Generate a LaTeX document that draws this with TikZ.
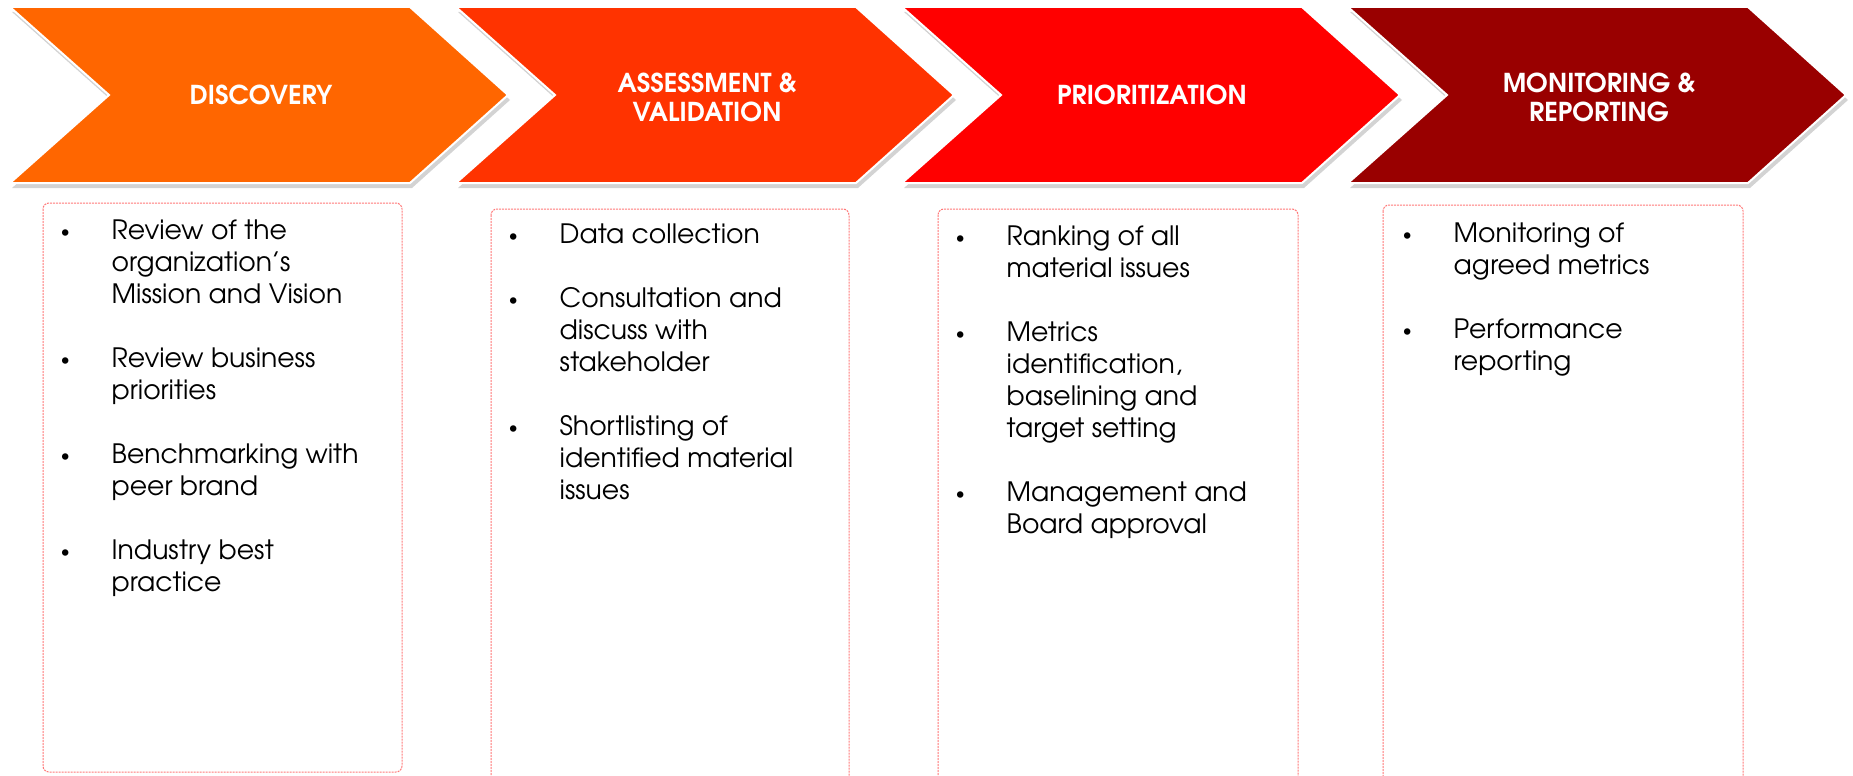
\documentclass[tikz,border=0pt]{standalone}
\usepackage{fontspec}
\setmainfont{TeX Gyre Adventor}
\usetikzlibrary{shadows}

\definecolor{discovery}{HTML}{FF6600}
\definecolor{assess}{HTML}{FF3300}
\definecolor{prior}{HTML}{FF0000}
\definecolor{monit}{HTML}{990000}
\definecolor{boxline}{HTML}{FF7878}

\tikzset{
	chevron/.style={draw=white, line width=2pt, line join=miter,
		drop shadow={shadow xshift=2pt, shadow yshift=-5pt, opacity=.35}},
	head/.style={text=white, align=center, inner sep=0pt,
		font=\fontsize{26}{29}\selectfont\bfseries},
	listbox/.style={draw=boxline, line width=1pt, dash pattern=on 2pt off 1pt,
		rounded corners=6pt},
	items/.style={anchor=base west, inner sep=0pt,
		font=\fontsize{26.67}{32}\selectfont}
}
\newcommand{\bul}{\makebox[46.5pt][l]{\makebox[0pt]{\fontsize{18}{18}\selectfont\raisebox{1.5pt}{\textbullet}}}}
\newcommand{\ind}{\hspace*{46.5pt}}

\begin{document}
\begin{tikzpicture}[x=1pt, y=-1pt]
	\useasboundingbox (0,0) rectangle (1853,776);
	\clip (0,0) rectangle (1853,776);

	% chevrons
	\draw[chevron, fill=discovery] (10,7) -- (410,7) -- (508,95) -- (410,183) -- (10,183) -- (109,95) -- cycle;
	\node[head] (disc) at (261,95) {DISCOVERY};
	\draw[chevron, fill=assess] (456,7) -- (856,7) -- (954,95) -- (856,183) -- (456,183) -- (555,95) -- cycle;
	\node[head] (assess) at (707,97) {ASSESSMENT \&\\VALIDATION};
	\draw[chevron, fill=prior] (902,7) -- (1302,7) -- (1400,95) -- (1302,183) -- (902,183) -- (1001,95) -- cycle;
	\node[head] (prior) at (1152,95) {PRIORITIZATION};
	\draw[chevron, fill=monit] (1348,7) -- (1748,7) -- (1846,95) -- (1748,183) -- (1348,183) -- (1447,95) -- cycle;
	\node[head] (monit) at (1599,97) {MONITORING \&\\REPORTING};

	% lists
	\draw[listbox] (43,203) rectangle (402,772);
	\node[items] (disclist) at (65,239) {\begin{tabular}[t]{@{}l@{}}
		\bul Review of the\\ \ind organization’s\\ \ind Mission and Vision\\[32pt]
		\bul Review business\\ \ind priorities\\[32pt]
		\bul Benchmarking with\\ \ind peer brand\\[32pt]
		\bul Industry best\\ \ind practice
	\end{tabular}};

	\draw[listbox] (491,209) rectangle (849,790);
	\node[items] (assesslist) at (513,243) {\begin{tabular}[t]{@{}l@{}}
		\bul Data collection\\[32pt]
		\bul Consultation and\\ \ind discuss with\\ \ind stakeholder\\[32pt]
		\bul Shortlisting of\\ \ind identified material\\ \ind issues
	\end{tabular}};

	\draw[listbox] (938,209) rectangle (1298,790);
	\node[items] (priorlist) at (960,245) {\begin{tabular}[t]{@{}l@{}}
		\bul Ranking of all\\ \ind material issues\\[32pt]
		\bul Metrics\\ \ind identification,\\ \ind baselining and\\ \ind target setting\\[32pt]
		\bul Management and\\ \ind Board approval
	\end{tabular}};

	\draw[listbox] (1383,205) rectangle (1743,790);
	\node[items] (monitlist) at (1407,242) {\begin{tabular}[t]{@{}l@{}}
		\bul Monitoring of\\ \ind agreed metrics\\[32pt]
		\bul Performance\\ \ind reporting
	\end{tabular}};
\end{tikzpicture}
\end{document}
